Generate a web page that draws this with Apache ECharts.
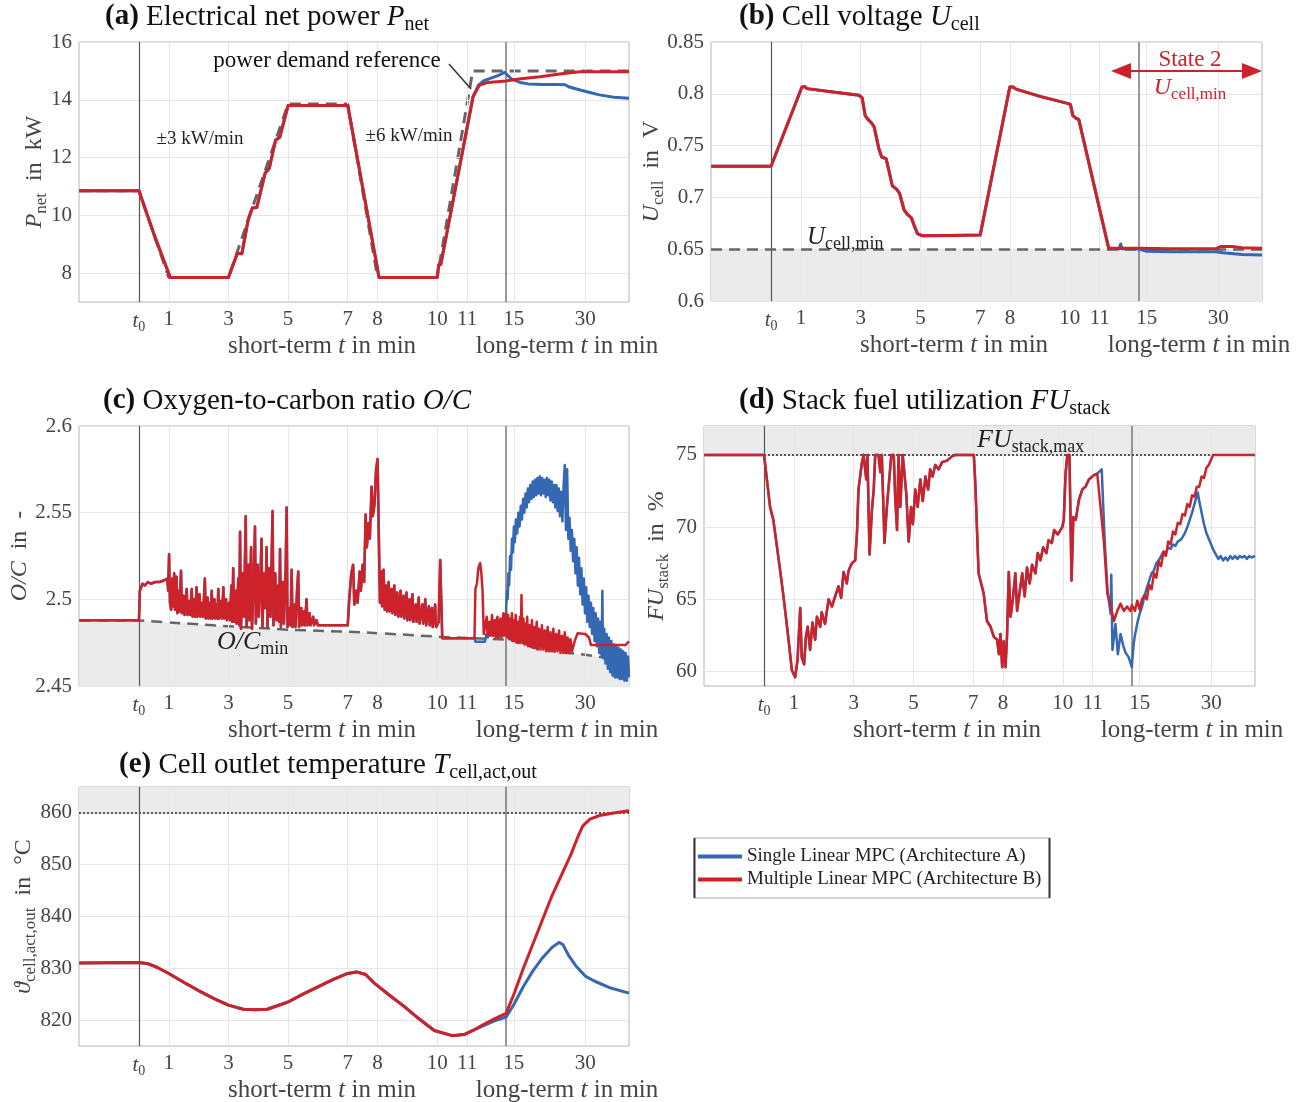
<!DOCTYPE html>
<html><head><meta charset="utf-8">
<script src="https://cdn.jsdelivr.net/npm/echarts@6/dist/echarts.min.js"></script>
<style>html,body{margin:0;padding:0;background:#fff}#c{width:1309px;height:1102px}</style>
</head><body><div id="c"></div><script>
// ---------------- DATA (time in minutes after t0, value) ----------------
const xTickShort = [0, 1, 3, 5, 7, 8, 10, 11];
const xTickLong = [15, 30];
const xTickLabels = ['{it|t}{sub|0}', '1', '3', '5', '7', '8', '10', '11', '15', '30'];
const pYTicks = [8, 10, 12, 14, 16];
const uYTicks = [0.6, 0.65, 0.7, 0.75, 0.8, 0.85];
const ocYTicks = [2.45, 2.5, 2.55, 2.6];
const fuYTicks = [60, 65, 70, 75];
const tYTicks = [820, 830, 840, 850, 860];

// (a) net power
const pShared = [[-2,10.85],[0,10.85],[0.5,9.35],[1.05,7.85],[3,7.85],[3.25,8.55],[3.31,8.69],[3.45,8.67],[3.66,9.84],[3.8,10.25],[3.95,10.27],[4.23,11.46],[4.37,11.63],[4.58,12.6],[4.72,12.7],[5,13.8],[5.05,13.85],[7,13.8],[8.05,7.85],[10,7.85],[10.05,8.28],[10.12,8.3],[11.2,14.1]];
const pRedTail = [[11.41,14.5],[11.7,14.6],[12.31,14.65],[13.38,14.66],[16,14.72],[20.5,14.8],[25,14.9],[28.9,14.97],[39.2,14.97]];
const pBlueTail = [[11.38,14.5],[11.55,14.65],[11.8,14.75],[12.05,14.84],[12.26,14.95],[12.31,14.93],[13.38,14.9],[14.5,14.72],[16.3,14.6],[18,14.55],[21,14.53],[24,14.53],[25.8,14.52],[26.5,14.45],[28.9,14.34],[31,14.25],[33,14.17],[36,14.09],[39.2,14.05]];
const pRef = [[-2,10.85],[0,10.85],[1,7.85],[3,7.85],[5,13.85],[7,13.85],[8,7.85],[10,7.85],[11.19,15],[39.2,15]];

// (b) cell voltage
const uShared = [[-2,0.73],[0,0.73],[1.03,0.8063],[1.08,0.805],[1.13,0.807],[1.2,0.805],[2,0.802],[2.95,0.7985],[3.05,0.796],[3.15,0.779],[3.25,0.775],[3.36,0.772],[3.45,0.768],[3.6,0.748],[3.7,0.739],[3.85,0.7375],[3.95,0.725],[4.06,0.711],[4.2,0.708],[4.3,0.704],[4.45,0.688],[4.55,0.684],[4.7,0.68],[4.8,0.672],[4.9,0.665],[5.05,0.663],[6,0.6632],[7,0.6637],[7.99,0.8065],[8.05,0.805],[8.1,0.8065],[8.2,0.8045],[9,0.7975],[9.95,0.7905],[10.02,0.7895],[10.1,0.779],[10.2,0.7765],[10.3,0.775]];
const uRedTail = [[11.3,0.651],[12.31,0.651],[13.38,0.6508],[20,0.6505],[29.5,0.6505],[30.5,0.6525],[33,0.6525],[35,0.6515],[39.2,0.651]];
const uBlueTail = [[11.3,0.6505],[11.65,0.6505],[11.7,0.655],[11.75,0.6505],[12.31,0.6502],[13.38,0.6495],[15,0.648],[20,0.6475],[29.5,0.6475],[31,0.6465],[35,0.645],[39.2,0.6443]];
const uMin = 0.65;

// (c) oxygen-to-carbon ratio
const ocShared = [[-2,2.488],[0,2.488],[0.03,2.505],[0.12,2.509],[0.2,2.508],[0.3,2.510],[0.4,2.509],[0.55,2.510],[0.7,2.510],[0.85,2.511],[0.95,2.512],[0.98,2.505],[1.01,2.526],[1.04,2.498],[1.08,2.494],[1.12,2.512],[1.15,2.496],[1.18,2.515],[1.21,2.494],[1.26,2.513],[1.29,2.492],[1.33,2.505],[1.36,2.493],[1.41,2.5165],[1.44,2.492],[1.5,2.502],[1.53,2.491],[1.6,2.506],[1.63,2.491],[1.69,2.499],[1.72,2.491],[1.77,2.506],[1.8,2.490],[1.86,2.500],[1.89,2.490],[1.93,2.507],[1.96,2.490],[2.03,2.503],[2.06,2.490],[2.12,2.498],[2.15,2.490],[2.21,2.512],[2.24,2.489],[2.3,2.501],[2.33,2.489],[2.38,2.498],[2.41,2.489],[2.44,2.505],[2.47,2.489],[2.53,2.500],[2.56,2.489],[2.61,2.497],[2.63,2.489],[2.66,2.506],[2.69,2.489],[2.75,2.499],[2.78,2.489],[2.83,2.507],[2.86,2.489],[2.92,2.500],[2.95,2.488],[3.02,2.498],[3.05,2.488],[3.1,2.508],[3.13,2.487],[3.16,2.518],[3.19,2.487],[3.24,2.505],[3.27,2.486],[3.33,2.512],[3.36,2.485],[3.39,2.539],[3.42,2.483],[3.48,2.515],[3.52,2.490],[3.58,2.548],[3.61,2.484],[3.67,2.520],[3.7,2.488],[3.76,2.530],[3.79,2.483],[3.85,2.512],[3.89,2.542],[3.92,2.486],[3.98,2.520],[4.02,2.490],[4.07,2.512],[4.11,2.535],[4.14,2.484],[4.2,2.515],[4.24,2.495],[4.28,2.530],[4.31,2.484],[4.37,2.518],[4.41,2.490],[4.45,2.525],[4.48,2.551],[4.51,2.485],[4.57,2.515],[4.61,2.488],[4.67,2.508],[4.7,2.487],[4.73,2.529],[4.76,2.484],[4.82,2.510],[4.86,2.486],[4.92,2.518],[4.95,2.553],[4.98,2.484],[5.05,2.495],[5.08,2.485],[5.12,2.517],[5.15,2.484],[5.22,2.497],[5.25,2.484],[5.3,2.505],[5.34,2.516],[5.37,2.484],[5.44,2.495],[5.47,2.485],[5.53,2.493],[5.56,2.485],[5.62,2.500],[5.65,2.485],[5.72,2.492],[5.75,2.485],[5.84,2.490],[5.87,2.485],[5.95,2.488],[6.0,2.485],[7.0,2.485],[7.05,2.500],[7.12,2.515],[7.18,2.520],[7.22,2.497],[7.28,2.505],[7.33,2.498],[7.4,2.516],[7.44,2.505],[7.5,2.520],[7.55,2.510],[7.6,2.549],[7.64,2.530],[7.7,2.544],[7.74,2.535],[7.8,2.565],[7.84,2.548],[7.9,2.555],[7.95,2.575],[8.0,2.581],[8.05,2.582],[8.08,2.498],[8.12,2.516],[8.15,2.496],[8.2,2.517],[8.24,2.494],[8.28,2.508],[8.32,2.493],[8.37,2.510],[8.41,2.493],[8.47,2.506],[8.5,2.492],[8.56,2.508],[8.6,2.491],[8.66,2.504],[8.7,2.490],[8.77,2.505],[8.8,2.490],[8.87,2.502],[8.9,2.489],[8.97,2.504],[9.0,2.488],[9.07,2.500],[9.1,2.488],[9.17,2.503],[9.2,2.487],[9.28,2.497],[9.31,2.487],[9.38,2.501],[9.41,2.486],[9.5,2.497],[9.53,2.486],[9.6,2.500],[9.63,2.485],[9.72,2.496],[9.75,2.485],[9.82,2.495],[9.85,2.484],[9.93,2.497],[9.96,2.484],[10.05,2.487],[10.1,2.5227],[10.14,2.5227],[10.17,2.4776],[11.25,2.4776]];
const ocRedTail = [[11.28,2.506],[11.33,2.509],[11.38,2.518],[11.44,2.521],[11.48,2.515],[11.52,2.505],[11.56,2.480],[11.62,2.479],[11.66,2.490],[11.69,2.479],[11.75,2.487],[11.78,2.479],[11.84,2.491],[11.87,2.479],[11.93,2.488],[11.96,2.478],[12.02,2.490],[12.05,2.478],[12.12,2.489],[12.15,2.478],[12.22,2.492],[12.25,2.479],[12.31,2.492],[13.38,2.490],[13.6,2.478],[13.8,2.491],[14.0,2.477],[14.2,2.489],[14.4,2.477],[14.6,2.492],[14.8,2.476],[15.0,2.488],[15.2,2.476],[15.4,2.491],[15.6,2.475],[15.8,2.487],[16.0,2.475],[16.3,2.490],[16.45,2.476],[16.6,2.5025],[16.75,2.475],[17.0,2.489],[17.2,2.474],[17.4,2.486],[17.6,2.474],[17.8,2.490],[18.0,2.473],[18.3,2.485],[18.5,2.473],[18.8,2.488],[19.0,2.472],[19.3,2.484],[19.5,2.472],[19.8,2.487],[20.0,2.471],[20.3,2.483],[20.6,2.471],[20.9,2.485],[21.2,2.471],[21.5,2.482],[21.8,2.470],[22.1,2.484],[22.4,2.470],[22.7,2.481],[23.0,2.470],[23.3,2.483],[23.6,2.470],[23.9,2.480],[24.2,2.470],[24.5,2.482],[24.8,2.469],[25.1,2.479],[25.4,2.469],[25.7,2.481],[26.0,2.469],[26.3,2.478],[26.6,2.469],[26.9,2.477],[27.2,2.470],[27.8,2.476],[28.4,2.4804],[30.0,2.480],[30.8,2.478],[31.2,2.4737],[38.5,2.4737],[39.2,2.4757]];
const ocBlueTail = [[11.28,2.4756],[11.6,2.4756],[11.65,2.480],[11.7,2.478],[11.8,2.487],[11.85,2.479],[12.0,2.489],[12.05,2.478],[12.15,2.486],[12.2,2.479],[12.26,2.4785],[12.31,2.49],[13.38,2.495],[13.55,2.505],[13.7,2.500],[13.85,2.515],[14.0,2.508],[14.2,2.525],[14.4,2.517],[14.6,2.535],[14.8,2.527],[15.0,2.542],[15.2,2.533],[15.45,2.546],[15.7,2.538],[15.95,2.550],[16.2,2.542],[16.45,2.554],[16.7,2.546],[16.95,2.558],[17.2,2.550],[17.45,2.561],[17.7,2.553],[17.95,2.564],[18.2,2.556],[18.45,2.566],[18.7,2.558],[18.95,2.568],[19.2,2.559],[19.45,2.569],[19.7,2.560],[19.95,2.570],[20.2,2.561],[20.45,2.571],[20.7,2.560],[20.95,2.570],[21.2,2.561],[21.45,2.569],[21.7,2.559],[21.95,2.570],[22.2,2.560],[22.45,2.569],[22.7,2.557],[22.95,2.568],[23.2,2.556],[23.45,2.566],[23.7,2.553],[23.95,2.566],[24.2,2.551],[24.45,2.564],[24.7,2.548],[24.95,2.562],[25.2,2.545],[25.45,2.565],[25.7,2.5775],[25.95,2.540],[26.2,2.575],[26.45,2.535],[26.7,2.547],[26.95,2.528],[27.2,2.540],[27.45,2.522],[27.7,2.535],[27.95,2.515],[28.2,2.530],[28.45,2.508],[28.7,2.524],[28.95,2.503],[29.2,2.518],[29.45,2.497],[29.7,2.512],[29.95,2.492],[30.2,2.507],[30.45,2.487],[30.7,2.502],[30.95,2.484],[31.2,2.498],[31.45,2.480],[31.7,2.495],[31.95,2.476],[32.2,2.492],[32.45,2.473],[32.7,2.489],[32.95,2.469],[33.2,2.487],[33.45,2.467],[33.6,2.505],[33.75,2.466],[34.0,2.483],[34.25,2.463],[34.5,2.480],[34.75,2.460],[35.0,2.478],[35.25,2.458],[35.5,2.476],[35.75,2.456],[36.0,2.474],[36.25,2.455],[36.5,2.473],[36.75,2.455],[37.0,2.472],[37.25,2.454],[37.5,2.471],[37.75,2.454],[38.0,2.470],[38.25,2.453],[38.5,2.469],[38.75,2.453],[39.0,2.467],[39.2,2.455]];
const ocMin = [[-2,2.4878],[0,2.4878],[2.5,2.485],[5,2.4825],[7.5,2.481],[10,2.4785],[12.31,2.4768],[15,2.476],[20,2.4715],[25,2.4695],[30,2.468],[35,2.466],[39.2,2.4645]];

// (d) stack fuel utilization
const fuShared = [[-2,75],[0,75],[0.03,75],[0.2,71.4],[0.31,70.5],[0.48,67.9],[0.65,65.2],[0.82,62.2],[0.93,60.1],[1.04,59.6],[1.12,60.8],[1.21,64.4],[1.26,61.0],[1.34,60.5],[1.40,62.4],[1.46,63.1],[1.54,61.5],[1.62,63.4],[1.71,62.2],[1.77,63.8],[1.88,63.1],[1.93,64.1],[2.04,63.3],[2.16,65.0],[2.27,64.5],[2.38,65.2],[2.49,65.9],[2.58,65.1],[2.66,66.9],[2.77,66.1],[2.83,67.0],[2.94,67.5],[3.05,67.7],[3.11,69.6],[3.16,72.6],[3.27,74.4],[3.33,75],[3.42,73.3],[3.46,75],[3.53,68.1],[3.61,71.2],[3.67,72.6],[3.72,75],[3.83,75],[3.89,73.8],[3.94,75],[4.03,68.9],[4.11,71.4],[4.17,71.4],[4.26,75],[4.34,75],[4.39,72.0],[4.45,69.8],[4.5,75],[4.56,71.4],[4.64,75],[4.7,75],[4.76,72.3],[4.84,69.0],[4.92,71.4],[4.98,70.2],[5.06,72.6],[5.14,71.4],[5.23,73.3],[5.31,71.8],[5.4,73.5],[5.49,72.6],[5.56,74.0],[5.64,73.5],[5.73,74.3],[5.84,74.0],[5.96,74.5],[6.12,74.6],[6.29,74.9],[6.4,75],[7.02,75],[7.07,73.0],[7.18,66.8],[7.35,65.4],[7.46,63.5],[7.58,63.1],[7.69,62.4],[7.8,62.2],[7.86,61.2],[7.91,62.6],[7.97,60.3],[8.02,62.1],[8.08,60.3],[8.13,62.4],[8.19,66.9],[8.25,63.8],[8.32,64.9],[8.41,66.8],[8.47,64.2],[8.56,65.6],[8.64,66.8],[8.72,65.2],[8.8,67.2],[8.89,66.1],[8.97,67.4],[9.08,66.8],[9.16,68.2],[9.25,67.7],[9.34,68.6],[9.45,68.2],[9.52,69.1],[9.63,68.9],[9.71,69.8],[9.83,69.5],[9.98,70.0],[10.03,70.5],[10.09,73.7],[10.15,75],[10.22,75],[10.29,66.3],[10.35,70.7],[10.43,70.5],[10.54,71.9],[10.65,72.6],[10.76,72.8],[10.87,73.3],[11.04,73.6],[11.15,73.7],[11.2,73.8]];
const fuRedTail = [[11.37,69.1],[11.49,65.4],[11.6,64.5],[11.71,63.5],[11.82,64.2],[11.93,64.7],[12.04,64.2],[12.15,64.5],[12.26,64.2],[12.31,64.6],[13.38,64.7],[14.0,64.2],[14.5,64.9],[15.0,64.3],[15.5,65.0],[16,65.3],[16.5,65.0],[17,66.0],[17.5,65.7],[18,66.8],[18.5,66.5],[19,67.6],[19.5,67.3],[20,68.3],[20.5,68.0],[21,69.0],[21.5,68.8],[22,69.7],[22.5,69.5],[23,70.3],[23.5,70.2],[24,70.9],[24.5,70.8],[25,71.6],[25.5,71.4],[26,72.2],[26.5,72.1],[27,72.8],[27.5,72.8],[28,73.5],[28.5,73.4],[29,74.1],[29.5,74.3],[30.4,75.0],[39.2,75.0]];
const fuBlueTail = [[11.3,74.0],[11.4,69.0],[11.5,65.5],[11.6,64.0],[11.62,66.7],[11.66,61.5],[11.76,63.3],[11.84,61.2],[11.93,62.6],[12.02,61.8],[12.1,61.3],[12.2,61.0],[12.31,60.3],[13.38,60.5],[13.7,61.8],[14.0,62.5],[14.3,63.0],[14.6,63.5],[15.0,64.0],[15.5,64.5],[16,65.2],[16.5,65.8],[17,66.3],[17.5,66.8],[18,67.0],[18.5,67.5],[19,67.7],[19.5,68.0],[20,68.3],[20.5,68.2],[21,68.6],[21.5,68.5],[22,68.8],[22.5,68.7],[23,69.0],[23.5,69.1],[24,69.3],[24.5,69.6],[25,70.0],[25.5,70.5],[26,71.0],[26.5,71.6],[27,72.2],[27.2,72.4],[27.5,71.8],[28,71.0],[28.5,70.2],[29,69.6],[29.5,69.2],[30,68.8],[30.5,68.4],[31,68.1],[31.5,67.8],[32,68.0],[32.5,67.7],[33,67.9],[33.5,67.7],[34,68.0],[34.5,67.8],[35,68.0],[35.5,67.8],[36,68.0],[36.5,67.9],[37,68.0],[37.5,67.8],[38,68.0],[38.5,67.9],[39.2,68.0]];
const fuMax = 75;

// (e) cell outlet temperature
const tShared = [[-2,831],[0,831.1],[0.3,830.9],[0.6,830.2],[1,829],[1.5,827.3],[2,825.7],[2.5,824.2],[3,822.9],[3.5,822.1],[3.9,822],[4.3,822.1],[5,823.5],[5.5,825],[6,826.4],[6.5,827.8],[7,829],[7.3,829.3],[7.6,828.8],[7.9,827.1],[8.4,824.8],[8.9,822.6],[9.4,820.2],[9.9,818],[10.5,817],[10.9,817.2],[11.2,818]];
const tRedTail = [[11.5,819],[11.9,820.2],[12.31,821.3],[13.38,821.3],[15,825],[17,830],[20,837],[23,844],[25,848],[27,852],[28.5,855.5],[29.5,857.5],[31,858.8],[33,859.5],[36,860],[39.2,860.4]];
const tBlueTail = [[11.5,818.8],[11.9,819.8],[12.31,820.6],[13.38,820.8],[15,823],[17,826.5],[19,829.5],[21,832],[23,834],[24.5,835],[25.3,834.6],[26.5,832.5],[28,830.5],[30,828.5],[32,827.5],[35,826.3],[39.2,825.2]];
const tMax = 860;

// ---------------- AXIS TRANSFORM (broken time axis) ----------------
const X_MIN = -2.01, X_MAX = 16.43, X_DIV = 12.31;   // short-term axis units = minutes
const LONG_X15 = 12.57, LONG_SCALE = 0.1595;        // long-term section compressed
function warp(t) { return t <= X_DIV ? t : Math.max(X_DIV, LONG_X15 + (t - 15) * LONG_SCALE); }
const xTickPos = xTickShort.concat(xTickLong.map(warp));

// ---------------- STYLE ----------------
const SERIF = '"Liberation Serif","DejaVu Serif",serif';
const RED = '#cd2229', BLUE = '#3568b3', SHADE = '#ebebeb', GRIDC = '#e6e6e6', LBL = '#444';
const NAME_A = 'Single Linear MPC (Architecture A)', NAME_B = 'Multiple Linear MPC (Architecture B)';

function rich(size, color) {
  return {
    n: {fontSize: size, fontFamily: SERIF, color: color, fill: color},
    i: {fontSize: size, fontFamily: SERIF, fontStyle: 'italic', color: color, fill: color},
    b: {fontSize: size, fontFamily: SERIF, fontWeight: 'bold', color: color, fill: color},
    s: {fontSize: Math.round(size * 0.7), fontFamily: SERIF, color: color, fill: color, padding: [Math.round(size * 0.55), 0, 0, 0]}
  };
}

const panels = [
  {left: 79, top: 42, width: 550, height: 260, yMin: 7, yMax: 16, yTicks: pYTicks, name: '{i|P}{s|net}{n|  in  kW}', gap: 29},
  {left: 711, top: 42, width: 551, height: 259, yMin: 0.6, yMax: 0.85, yTicks: uYTicks, name: '{i|U}{s|cell}{n|  in  V}', gap: 44},
  {left: 79, top: 426, width: 550, height: 260, yMin: 2.45, yMax: 2.6, yTicks: ocYTicks, name: '{i|O/C}{n|  in  -}', gap: 47},
  {left: 704, top: 426, width: 551, height: 260, yMin: 59, yMax: 77, yTicks: fuYTicks, name: '{i|FU}{s|stack}{n|  in  %}', gap: 32},
  {left: 79, top: 787, width: 550, height: 259, yMin: 815, yMax: 865, yTicks: tYTicks, name: '{i|ϑ}{s|cell,act,out}{n|  in  °C}', gap: 40}
];

const grids = [], xAxes = [], yAxes = [], series = [], graphics = [];
panels.forEach((P, i) => {
  grids.push({left: P.left, top: P.top, width: P.width, height: P.height, show: true, borderColor: '#b4b4b4', borderWidth: 1, backgroundColor: 'transparent', outerBoundsMode: 'none'});
  xAxes.push({type: 'value', gridIndex: i, min: X_MIN, max: X_MAX,
    axisLine: {show: false}, splitLine: {show: false},
    axisTick: {show: true, inside: true, length: 4, customValues: xTickPos, lineStyle: {color: '#999'}},
    axisLabel: {customValues: xTickPos, margin: 7, fontSize: 21, color: LBL, fontFamily: SERIF, hideOverlap: false,
      formatter: v => { const k = xTickPos.findIndex(p => Math.abs(p - v) < 1e-6); return k >= 0 ? xTickLabels[k] : ''; },
      rich: {it: {fontSize: 21, fontStyle: 'italic', fontFamily: SERIF, color: LBL}, sub: {fontSize: 14, fontFamily: SERIF, color: LBL, padding: [11, 0, 0, 0]}}}
  });
  yAxes.push({type: 'value', gridIndex: i, min: P.yMin, max: P.yMax,
    axisLine: {show: false}, splitLine: {show: false},
    axisTick: {show: true, inside: true, length: 4, customValues: P.yTicks, lineStyle: {color: '#999'}},
    axisLabel: {customValues: P.yTicks, margin: 7, fontSize: 21, color: LBL, fontFamily: SERIF},
    name: P.name, nameLocation: 'middle', nameRotate: 90, nameGap: P.gap, nameMoveOverlap: false,
    nameTextStyle: {fontSize: 24, fontFamily: SERIF, color: LBL, rich: rich(24, LBL)}
  });
  // light grid lines
  series.push({type: 'line', xAxisIndex: i, yAxisIndex: i, data: [], z: 1, silent: true,
    markLine: {silent: true, symbol: ['none', 'none'], label: {show: false}, animation: false,
      lineStyle: {color: GRIDC, width: 1, type: 'solid'},
      data: xTickPos.map(v => ({xAxis: v})).concat(P.yTicks.map(v => ({yAxis: v})))}
  });
  // dark vertical separators at t0 and short/long break
  series.push({type: 'line', xAxisIndex: i, yAxisIndex: i, data: [], z: 3, silent: true,
    markLine: {silent: true, symbol: ['none', 'none'], label: {show: false}, animation: false,
      lineStyle: {color: '#555', width: 1.2, type: 'solid'},
      data: [{xAxis: 0}, {xAxis: X_DIV, lineStyle: {color: '#777', width: 1.5}}]}
  });
  // x-axis names
  const by = P.top + P.height + 44;
  graphics.push({type: 'text', x: P.left + 243, y: by, silent: true, style: {text: '{n|short-term }{i|t}{n| in min}', rich: rich(25, LBL), align: 'center', verticalAlign: 'middle'}});
  graphics.push({type: 'text', x: P.left + 488, y: by, silent: true, style: {text: '{n|long-term }{i|t}{n| in min}', rich: rich(25, LBL), align: 'center', verticalAlign: 'middle'}});
});

function line(name, gi, data, color, width, z, extra) {
  return Object.assign({type: 'line', name: name, xAxisIndex: gi, yAxisIndex: gi,
    data: data.map(p => [warp(p[0]), p[1]]), showSymbol: false, symbol: 'none', silent: true,
    lineStyle: {color: color, width: width, join: 'round'}, itemStyle: {color: color}, z: z, animation: false}, extra || {});
}

// (a)
series.push(line('ref', 0, pRef, '#666', 3, 4, {lineStyle: {color: '#666', width: 3, type: [11, 7]}}));
series.push(line(NAME_A, 0, pShared.concat(pBlueTail), BLUE, 3, 5));
series.push(line(NAME_B, 0, pShared.concat(pRedTail), RED, 3, 6));
// (b)
series.push({type: 'line', xAxisIndex: 1, yAxisIndex: 1, data: [], z: 2, silent: true,
  markArea: {silent: true, itemStyle: {color: SHADE}, data: [[{yAxis: 0.6}, {yAxis: uMin}]]},
  markLine: {silent: true, symbol: ['none', 'none'], label: {show: false}, animation: false,
    lineStyle: {color: '#666', width: 2.5, type: [11, 7]}, data: [{yAxis: uMin}]}});
series.push(line(NAME_A, 1, uShared.concat(uBlueTail), BLUE, 3, 5));
series.push(line(NAME_B, 1, uShared.concat(uRedTail), RED, 3, 6));
// (c)
series.push(line('ocmin', 2, ocMin, '#666', 2.5, 2, {lineStyle: {color: '#666', width: 2.5, type: [11, 7]}, areaStyle: {color: SHADE, opacity: 1, origin: 'start'}}));
series.push(line(NAME_A, 2, ocShared.concat(ocBlueTail), BLUE, 2.5, 5));
series.push(line(NAME_B, 2, ocShared.concat(ocRedTail), RED, 2.5, 6));
// (d)
series.push({type: 'line', xAxisIndex: 3, yAxisIndex: 3, data: [], z: 2, silent: true,
  markArea: {silent: true, itemStyle: {color: SHADE}, data: [[{yAxis: fuMax}, {yAxis: 77}]]},
  markLine: {silent: true, symbol: ['none', 'none'], label: {show: false}, animation: false,
    lineStyle: {color: '#555', width: 2, type: 'dotted'}, data: [{yAxis: fuMax}]}});
series.push(line(NAME_A, 3, fuShared.concat(fuBlueTail), BLUE, 2.5, 5));
series.push(line(NAME_B, 3, fuShared.concat(fuRedTail), RED, 2.5, 6));
// (e)
series.push({type: 'line', xAxisIndex: 4, yAxisIndex: 4, data: [], z: 2, silent: true,
  markArea: {silent: true, itemStyle: {color: SHADE}, data: [[{yAxis: tMax}, {yAxis: 865}]]},
  markLine: {silent: true, symbol: ['none', 'none'], label: {show: false}, animation: false,
    lineStyle: {color: '#555', width: 2, type: 'dotted'}, data: [{yAxis: tMax}]}});
series.push(line(NAME_A, 4, tShared.concat(tBlueTail), BLUE, 3, 5));
series.push(line(NAME_B, 4, tShared.concat(tRedTail), RED, 3, 6));

// titles & annotations
function T(x, y, text, size, color, align) {
  return {type: 'text', x: x, y: y, silent: true, z: 50, style: {text: text, rich: rich(size, color || '#111'), align: align || 'left', verticalAlign: 'middle'}};
}
graphics.push(T(105, 17, '{b|(a)}{n| Electrical net power }{i|P}{s|net}', 29));
graphics.push(T(739, 17, '{b|(b)}{n| Cell voltage }{i|U}{s|cell}', 29));
graphics.push(T(103, 401, '{b|(c)}{n| Oxygen-to-carbon ratio }{i|O/C}', 29));
graphics.push(T(739, 401, '{b|(d)}{n| Stack fuel utilization }{i|FU}{s|stack}', 29));
graphics.push(T(119, 765, '{b|(e)}{n| Cell outlet temperature }{i|T}{s|cell,act,out}', 29));

graphics.push(T(327, 61, '{n|power demand reference}', 23, '#111', 'center'));
graphics.push({type: 'line', silent: true, z: 50, shape: {x1: 449, y1: 64, x2: 471, y2: 89}, style: {stroke: '#333', lineWidth: 1.5}});
graphics.push(T(200, 139, '{n|±3 kW/min}', 19, '#222', 'center'));
graphics.push(T(409, 136, '{n|±6 kW/min}', 19, '#222', 'center'));

graphics.push(T(807, 237, '{i|U}{s|cell,min}', 25, '#222'));
graphics.push(T(1190, 60, '{n|State 2}', 23, RED, 'center'));
graphics.push(T(1190, 88, '{i|U}{s|cell,min}', 24, RED, 'center'));
graphics.push({type: 'line', silent: true, z: 50, shape: {x1: 1125, y1: 71, x2: 1250, y2: 71}, style: {stroke: RED, lineWidth: 2}});
graphics.push({type: 'polygon', silent: true, z: 50, shape: {points: [[1111, 71], [1131, 63], [1131, 79]]}, style: {fill: RED}});
graphics.push({type: 'polygon', silent: true, z: 50, shape: {points: [[1262, 71], [1242, 63], [1242, 79]]}, style: {fill: RED}});

graphics.push(T(217, 642, '{i|O/C}{s|min}', 26, '#222'));
graphics.push(T(977, 440, '{i|FU}{s|stack,max}', 26, '#222'));

// legend side bars
graphics.push({type: 'line', silent: true, z: 60, shape: {x1: 694.5, y1: 838, x2: 694.5, y2: 898}, style: {stroke: '#333', lineWidth: 2}});
graphics.push({type: 'line', silent: true, z: 60, shape: {x1: 1049.5, y1: 838, x2: 1049.5, y2: 898}, style: {stroke: '#333', lineWidth: 2}});

const chart = echarts.init(document.getElementById('c'), null, {renderer: 'canvas'});
chart.setOption({
  animation: false,
  backgroundColor: '#fff',
  grid: grids, xAxis: xAxes, yAxis: yAxes, series: series,
  legend: {left: 694, top: 838, orient: 'vertical', itemWidth: 44, itemHeight: 4, itemGap: 4,
    padding: [9, 8, 9, 4], backgroundColor: '#fff', borderColor: '#aaa', borderWidth: 1, selectedMode: false,
    textStyle: {fontSize: 19, fontFamily: SERIF, color: '#222'},
    data: [{name: NAME_A, icon: 'rect'}, {name: NAME_B, icon: 'rect'}]},
  graphic: {elements: graphics}
});
</script></body></html>
